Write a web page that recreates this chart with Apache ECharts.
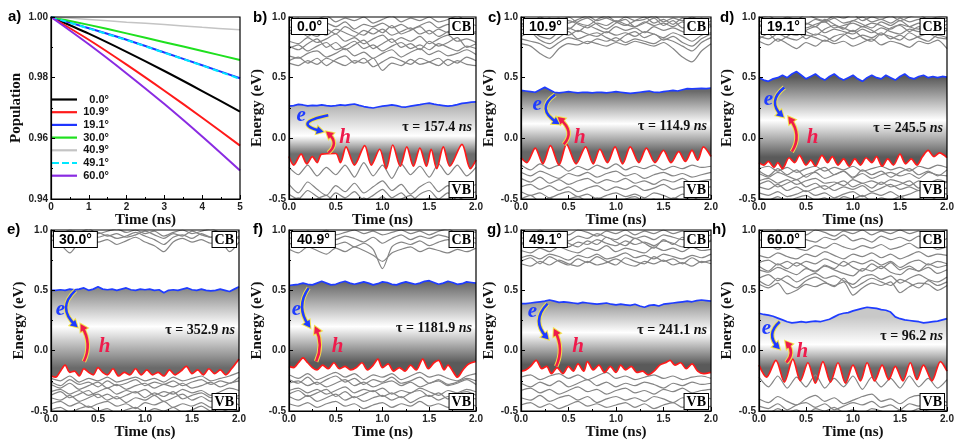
<!DOCTYPE html>
<html><head><meta charset="utf-8">
<script src="https://cdn.jsdelivr.net/npm/echarts@6/dist/echarts.min.js"></script>
<style>html,body{margin:0;padding:0;background:#fff}#c{width:960px;height:444px}</style>
</head><body><div id="c"></div>
<script>
// ---------------- DATA ----------------
// Panel a: population decay
const popTime = [0, 1, 2, 3, 4, 5];
const popLabels = ['0.0°', '10.9°', '19.1°', '30.0°', '40.9°', '49.1°', '60.0°'];
const pop00 = [1.000, 0.9945, 0.9885, 0.9822, 0.9756, 0.9688];
const pop109 = [1.000, 0.9925, 0.9843, 0.9757, 0.9668, 0.9576];
const pop191 = [1.000, 0.9963, 0.9925, 0.9883, 0.9841, 0.9798];
const pop300 = [1.000, 0.9974, 0.9946, 0.9917, 0.9888, 0.9858];
const pop409 = [1.000, 0.9992, 0.9983, 0.9975, 0.9966, 0.9958];
const pop491 = [1.000, 0.9962, 0.9924, 0.9882, 0.9840, 0.9796];
const pop600 = [1.000, 0.9910, 0.9814, 0.9713, 0.9606, 0.9494];

// Energy panels: shared time grids
const tFine = [0,0.05,0.1,0.15,0.2,0.25,0.3,0.35,0.4,0.45,0.5,0.55,0.6,0.65,0.7,0.75,0.8,0.85,0.9,0.95,1.0,1.05,1.1,1.15,1.2,1.25,1.3,1.35,1.4,1.45,1.5,1.55,1.6,1.65,1.7,1.75,1.8,1.85,1.9,1.95,2.0];
const tGray = [0,0.1,0.2,0.3,0.4,0.5,0.6,0.7,0.8,0.9,1.0,1.1,1.2,1.3,1.4,1.5,1.6,1.7,1.8,1.9,2.0];
const panelAngles = ['0.0°', '10.9°', '19.1°', '30.0°', '40.9°', '49.1°', '60.0°'];
const panelTau = ['157.4', '114.9', '245.5', '352.9', '1181.9', '241.1', '96.2'];

// b) 0.0°
const b_blue = [0.265,0.27,0.28,0.275,0.268,0.272,0.27,0.276,0.27,0.266,0.27,0.275,0.272,0.278,0.283,0.272,0.262,0.255,0.25,0.258,0.265,0.27,0.275,0.27,0.26,0.258,0.265,0.272,0.278,0.285,0.29,0.282,0.275,0.27,0.265,0.27,0.278,0.288,0.293,0.298,0.30];
const b_red = [[0,-0.15],[0.05,-0.22],[0.13,-0.13],[0.19,-0.21],[0.25,-0.15],[0.3,-0.2],[0.35,-0.13],[0.5,-0.125],[0.55,-0.2],[0.61,-0.07],[0.7,-0.22],[0.81,-0.06],[0.88,-0.22],[0.97,-0.09],[1.04,-0.25],[1.11,-0.055],[1.19,-0.23],[1.26,-0.07],[1.33,-0.23],[1.4,-0.08],[1.47,-0.23],[1.52,-0.09],[1.58,-0.25],[1.65,-0.07],[1.72,-0.23],[1.85,-0.05],[1.94,-0.25],[2.0,-0.18]];
const b_cb1 = [0.62,0.60,0.64,0.61,0.66,0.63,0.60,0.64,0.62,0.66,0.56,0.62,0.60,0.65,0.61,0.63,0.66,0.60,0.64,0.61,0.60];
const b_cb2 = [0.68,0.66,0.70,0.72,0.67,0.70,0.74,0.68,0.71,0.66,0.70,0.73,0.67,0.71,0.74,0.69,0.72,0.68,0.70,0.73,0.69];
const b_cb3 = [0.74,0.77,0.72,0.76,0.79,0.73,0.76,0.80,0.74,0.77,0.72,0.76,0.79,0.74,0.77,0.73,0.78,0.75,0.72,0.76,0.74];
const b_cb4 = [0.80,0.78,0.83,0.79,0.82,0.86,0.80,0.83,0.78,0.82,0.85,0.79,0.83,0.80,0.84,0.78,0.82,0.85,0.80,0.82,0.79];
const b_cb5 = [0.86,0.89,0.84,0.88,0.85,0.90,0.87,0.84,0.89,0.86,0.90,0.85,0.88,0.91,0.86,0.89,0.84,0.88,0.90,0.86,0.88];
const b_cb6 = [0.92,0.90,0.94,0.91,0.95,0.92,0.96,0.90,0.94,0.92,0.95,0.91,0.94,0.90,0.93,0.96,0.91,0.94,0.92,0.95,0.93];
const b_cb7 = [0.97,0.99,0.95,0.98,1.01,0.96,0.99,0.97,1.00,0.95,0.98,1.01,0.96,0.99,0.97,1.00,0.96,0.98,1.01,0.97,0.99];
const b_cb8 = [0.64,0.67,0.62,0.66,0.60,0.65,0.68,0.62,0.66,0.59,0.63,0.67,0.64,0.61,0.66,0.63,0.60,0.65,0.62,0.67,0.64];
const b_cb9 = [0.76,0.73,0.78,0.82,0.75,0.79,0.73,0.77,0.81,0.74,0.78,0.82,0.75,0.78,0.73,0.80,0.76,0.79,0.83,0.75,0.78];
const b_cb10 = [0.88,0.92,0.87,0.84,0.90,0.86,0.92,0.88,0.85,0.91,0.87,0.93,0.86,0.89,0.92,0.86,0.90,0.87,0.93,0.89,0.86];
const b_vb1 = [-0.24,-0.30,-0.22,-0.31,-0.24,-0.30,-0.22,-0.32,-0.20,-0.31,-0.22,-0.33,-0.21,-0.30,-0.23,-0.32,-0.21,-0.30,-0.22,-0.31,-0.24];
const b_vb2 = [-0.38,-0.45,-0.36,-0.42,-0.47,-0.39,-0.44,-0.37,-0.45,-0.40,-0.35,-0.43,-0.38,-0.46,-0.40,-0.36,-0.44,-0.39,-0.45,-0.41,-0.38];
const b_vb3 = [-0.46,-0.50,-0.43,-0.48,-0.52,-0.45,-0.49,-0.44,-0.51,-0.47,-0.42,-0.49,-0.45,-0.52,-0.46,-0.43,-0.50,-0.45,-0.51,-0.47,-0.44];
const b_vb4 = [-0.52,-0.49,-0.55,-0.50,-0.47,-0.53,-0.50,-0.55,-0.49,-0.53,-0.48,-0.54,-0.50,-0.47,-0.53,-0.49,-0.55,-0.50,-0.48,-0.53,-0.50];

// c) 10.9°
const c_blue = [0.395,0.39,0.385,0.38,0.40,0.42,0.40,0.38,0.375,0.38,0.385,0.38,0.375,0.38,0.378,0.375,0.38,0.378,0.375,0.38,0.385,0.38,0.375,0.37,0.375,0.38,0.385,0.39,0.38,0.378,0.385,0.39,0.395,0.39,0.40,0.41,0.408,0.41,0.412,0.41,0.415];
const c_red = [[0,-0.16],[0.06,-0.2],[0.15,-0.08],[0.23,-0.21],[0.31,-0.06],[0.4,-0.22],[0.48,-0.05],[0.58,-0.21],[0.68,-0.07],[0.76,-0.21],[0.83,-0.09],[0.91,-0.2],[0.99,-0.07],[1.07,-0.21],[1.15,-0.07],[1.24,-0.2],[1.32,-0.08],[1.41,-0.2],[1.5,-0.1],[1.58,-0.2],[1.66,-0.11],[1.73,-0.19],[1.8,-0.1],[1.86,-0.18],[1.92,-0.07],[2.0,-0.15]];
const c_cb1 = [0.78,0.76,0.70,0.66,0.74,0.78,0.77,0.80,0.78,0.76,0.79,0.77,0.80,0.78,0.76,0.79,0.74,0.67,0.63,0.72,0.78];
const c_cb2 = [0.82,0.80,0.78,0.74,0.79,0.83,0.81,0.78,0.82,0.80,0.83,0.79,0.82,0.80,0.78,0.82,0.80,0.76,0.72,0.79,0.83];
const c_cb3 = [0.86,0.88,0.84,0.82,0.87,0.85,0.89,0.86,0.84,0.88,0.85,0.87,0.84,0.88,0.86,0.83,0.87,0.84,0.80,0.85,0.87];
const c_cb4 = [0.90,0.88,0.92,0.89,0.86,0.91,0.88,0.93,0.90,0.87,0.92,0.89,0.91,0.87,0.92,0.89,0.91,0.88,0.86,0.90,0.92];
const c_cb5 = [0.94,0.96,0.92,0.95,0.93,0.97,0.94,0.91,0.95,0.93,0.97,0.94,0.92,0.96,0.93,0.95,0.92,0.96,0.93,0.95,0.94];
const c_cb6 = [0.98,0.96,1.00,0.97,0.99,0.95,0.98,1.01,0.97,0.99,0.96,1.00,0.97,0.98,1.01,0.96,0.99,0.97,1.00,0.97,0.99];
const c_cb7 = [0.92,0.95,0.98,0.93,0.96,1.00,0.95,0.93,0.98,1.01,0.96,0.93,0.97,1.00,0.95,0.98,0.94,0.99,0.96,0.93,0.97];
const c_cb8 = [0.84,0.87,0.81,0.78,0.83,0.88,0.82,0.85,0.87,0.83,0.80,0.85,0.88,0.83,0.86,0.81,0.84,0.79,0.76,0.82,0.86];
const c_cb9 = [0.95,0.91,0.96,0.99,0.93,0.90,0.96,0.99,0.94,0.90,0.95,0.98,0.92,0.95,0.99,0.93,0.97,0.91,0.95,0.99,0.92];
const c_vb1 = [-0.22,-0.26,-0.21,-0.25,-0.22,-0.27,-0.23,-0.26,-0.22,-0.25,-0.21,-0.26,-0.23,-0.25,-0.22,-0.26,-0.23,-0.25,-0.22,-0.24,-0.23];
const c_vb2 = [-0.28,-0.31,-0.27,-0.30,-0.33,-0.29,-0.31,-0.28,-0.32,-0.29,-0.27,-0.31,-0.29,-0.33,-0.30,-0.28,-0.31,-0.29,-0.32,-0.30,-0.28];
const c_vb3 = [-0.33,-0.36,-0.32,-0.37,-0.34,-0.38,-0.35,-0.33,-0.37,-0.34,-0.36,-0.33,-0.37,-0.35,-0.38,-0.34,-0.36,-0.33,-0.37,-0.35,-0.34];
const c_vb4 = [-0.40,-0.38,-0.42,-0.39,-0.43,-0.40,-0.44,-0.41,-0.39,-0.43,-0.40,-0.42,-0.39,-0.43,-0.41,-0.38,-0.42,-0.40,-0.44,-0.41,-0.40];
const c_vb5 = [-0.44,-0.47,-0.45,-0.49,-0.46,-0.44,-0.48,-0.46,-0.50,-0.47,-0.45,-0.48,-0.46,-0.49,-0.45,-0.47,-0.50,-0.46,-0.48,-0.45,-0.47];
const c_vb6 = [-0.50,-0.47,-0.52,-0.49,-0.53,-0.50,-0.48,-0.52,-0.49,-0.51,-0.54,-0.50,-0.48,-0.52,-0.50,-0.53,-0.49,-0.51,-0.48,-0.52,-0.50];

// d) 19.1°
const d_blue = [0.50,0.48,0.47,0.49,0.50,0.52,0.50,0.53,0.55,0.52,0.49,0.51,0.53,0.50,0.48,0.51,0.53,0.50,0.48,0.50,0.52,0.49,0.47,0.50,0.52,0.50,0.49,0.52,0.50,0.48,0.51,0.53,0.50,0.49,0.51,0.52,0.50,0.51,0.50,0.51,0.505];
const d_red = [[0,-0.2],[0.05,-0.22],[0.1,-0.19],[0.16,-0.24],[0.2,-0.2],[0.25,-0.25],[0.32,-0.16],[0.38,-0.2],[0.43,-0.14],[0.5,-0.22],[0.55,-0.18],[0.6,-0.23],[0.67,-0.14],[0.73,-0.2],[0.78,-0.15],[0.84,-0.22],[0.9,-0.17],[0.96,-0.23],[1.02,-0.17],[1.08,-0.22],[1.14,-0.16],[1.2,-0.2],[1.25,-0.15],[1.31,-0.23],[1.37,-0.17],[1.43,-0.22],[1.5,-0.13],[1.56,-0.21],[1.62,-0.17],[1.68,-0.22],[1.74,-0.15],[1.8,-0.1],[1.86,-0.15],[1.92,-0.12],[2.0,-0.16]];
const d_cb1 = [0.80,0.77,0.82,0.78,0.74,0.79,0.76,0.81,0.78,0.80,0.76,0.79,0.82,0.77,0.80,0.78,0.75,0.80,0.78,0.81,0.74];
const d_cb2 = [0.84,0.82,0.86,0.83,0.81,0.85,0.83,0.80,0.84,0.86,0.82,0.85,0.83,0.87,0.82,0.85,0.81,0.84,0.86,0.83,0.82];
const d_cb3 = [0.88,0.86,0.90,0.87,0.85,0.89,0.92,0.87,0.90,0.88,0.86,0.90,0.87,0.91,0.88,0.86,0.90,0.88,0.91,0.87,0.89];
const d_cb4 = [0.92,0.94,0.90,0.93,0.95,0.91,0.94,0.96,0.91,0.93,0.95,0.92,0.95,0.93,0.90,0.94,0.92,0.95,0.93,0.91,0.94];
const d_cb5 = [0.96,0.98,0.95,0.99,0.96,0.94,0.98,0.96,0.99,0.95,0.97,1.00,0.96,0.98,0.95,0.99,0.96,0.98,0.95,0.97,0.99];
const d_cb6 = [0.99,1.01,0.97,1.00,0.98,1.02,0.99,0.97,1.01,0.99,1.02,0.97,1.00,0.98,1.01,0.97,1.00,1.02,0.98,1.00,1.01];
const d_cb7 = [0.86,0.90,0.93,0.89,0.92,0.88,0.85,0.90,0.93,0.91,0.88,0.92,0.89,0.85,0.91,0.93,0.88,0.92,0.89,0.93,0.90];
const d_cb8 = [0.82,0.86,0.80,0.84,0.88,0.82,0.86,0.84,0.80,0.85,0.89,0.83,0.80,0.86,0.84,0.81,0.87,0.83,0.80,0.85,0.83];
const d_cb9 = [0.94,0.90,0.96,0.92,0.89,0.95,0.92,0.98,0.94,0.90,0.97,0.94,0.91,0.96,0.93,0.97,0.92,0.90,0.96,0.94,0.97];
const d_vb1 = [-0.25,-0.23,-0.27,-0.24,-0.28,-0.25,-0.23,-0.27,-0.24,-0.26,-0.23,-0.27,-0.25,-0.23,-0.26,-0.24,-0.27,-0.23,-0.25,-0.22,-0.24];
const d_vb2 = [-0.29,-0.32,-0.28,-0.31,-0.34,-0.30,-0.28,-0.33,-0.30,-0.27,-0.32,-0.29,-0.33,-0.30,-0.28,-0.31,-0.29,-0.33,-0.28,-0.30,-0.31];
const d_vb3 = [-0.35,-0.33,-0.37,-0.34,-0.38,-0.35,-0.33,-0.37,-0.36,-0.39,-0.34,-0.37,-0.35,-0.38,-0.34,-0.36,-0.39,-0.35,-0.37,-0.34,-0.36];
const d_vb4 = [-0.40,-0.42,-0.38,-0.43,-0.40,-0.44,-0.41,-0.39,-0.43,-0.40,-0.42,-0.39,-0.44,-0.41,-0.38,-0.42,-0.40,-0.43,-0.39,-0.42,-0.41];
const d_vb5 = [-0.45,-0.47,-0.44,-0.48,-0.46,-0.43,-0.47,-0.45,-0.49,-0.46,-0.44,-0.48,-0.45,-0.47,-0.44,-0.48,-0.46,-0.43,-0.47,-0.45,-0.46];
const d_vb6 = [-0.49,-0.51,-0.48,-0.52,-0.49,-0.47,-0.51,-0.49,-0.53,-0.48,-0.50,-0.47,-0.52,-0.49,-0.51,-0.48,-0.52,-0.50,-0.47,-0.51,-0.49];
const d_vb7 = [-0.27,-0.31,-0.25,-0.30,-0.26,-0.32,-0.27,-0.24,-0.30,-0.27,-0.33,-0.26,-0.30,-0.27,-0.32,-0.28,-0.25,-0.30,-0.27,-0.31,-0.26];
const d_vb8 = [-0.38,-0.35,-0.40,-0.37,-0.34,-0.40,-0.37,-0.42,-0.38,-0.35,-0.40,-0.37,-0.41,-0.36,-0.40,-0.38,-0.35,-0.41,-0.37,-0.39,-0.36];

// e) 30.0°
const e_blue = [0.50,0.50,0.505,0.50,0.51,0.505,0.51,0.52,0.50,0.51,0.53,0.51,0.505,0.51,0.50,0.51,0.52,0.505,0.50,0.51,0.505,0.51,0.50,0.505,0.48,0.50,0.505,0.50,0.51,0.52,0.505,0.50,0.51,0.50,0.495,0.50,0.51,0.50,0.49,0.51,0.53];
const e_red = [[0,-0.21],[0.05,-0.22],[0.1,-0.17],[0.15,-0.12],[0.2,-0.18],[0.25,-0.17],[0.3,-0.21],[0.35,-0.15],[0.4,-0.18],[0.45,-0.2],[0.5,-0.14],[0.55,-0.18],[0.6,-0.2],[0.66,-0.15],[0.72,-0.21],[0.78,-0.18],[0.84,-0.2],[0.9,-0.15],[0.96,-0.2],[1.02,-0.16],[1.08,-0.2],[1.14,-0.18],[1.2,-0.21],[1.26,-0.16],[1.32,-0.2],[1.38,-0.17],[1.44,-0.13],[1.5,-0.19],[1.56,-0.16],[1.62,-0.2],[1.68,-0.15],[1.74,-0.19],[1.8,-0.16],[1.86,-0.2],[1.92,-0.15],[1.97,-0.1],[2.0,-0.07]];
const e_cb1 = [0.92,0.88,0.81,0.90,0.93,0.90,0.92,0.88,0.91,0.94,0.90,0.87,0.82,0.90,0.93,0.90,0.92,0.89,0.91,0.82,0.90];
const e_cb2 = [0.96,0.94,0.90,0.95,0.97,0.94,0.96,0.93,0.95,0.98,0.95,0.92,0.88,0.94,0.96,0.93,0.97,0.94,0.96,0.90,0.95];
const e_cb3 = [0.99,0.97,1.00,0.98,1.01,0.97,0.99,1.01,0.98,1.00,0.97,0.99,0.95,0.98,1.00,0.97,0.99,1.01,0.98,0.96,0.99];
const e_cb4 = [0.94,0.97,0.95,0.92,0.96,0.98,0.95,0.97,0.94,0.96,0.99,0.96,0.93,0.97,0.95,0.99,0.96,0.94,0.97,0.95,0.93];
const e_vb1 = [-0.23,-0.25,-0.21,-0.26,-0.23,-0.25,-0.22,-0.26,-0.24,-0.22,-0.25,-0.23,-0.26,-0.22,-0.25,-0.23,-0.21,-0.25,-0.23,-0.21,-0.18];
const e_vb2 = [-0.28,-0.31,-0.27,-0.32,-0.29,-0.26,-0.31,-0.28,-0.32,-0.29,-0.27,-0.31,-0.28,-0.30,-0.27,-0.31,-0.29,-0.26,-0.30,-0.27,-0.25];
const e_vb3 = [-0.34,-0.32,-0.36,-0.33,-0.37,-0.34,-0.31,-0.36,-0.33,-0.35,-0.32,-0.37,-0.34,-0.36,-0.32,-0.35,-0.33,-0.37,-0.34,-0.31,-0.33];
const e_vb4 = [-0.39,-0.41,-0.37,-0.42,-0.39,-0.36,-0.41,-0.38,-0.43,-0.39,-0.41,-0.37,-0.42,-0.39,-0.36,-0.41,-0.38,-0.42,-0.39,-0.37,-0.40];
const e_vb5 = [-0.44,-0.42,-0.46,-0.43,-0.47,-0.44,-0.42,-0.46,-0.44,-0.48,-0.43,-0.45,-0.42,-0.47,-0.44,-0.46,-0.43,-0.47,-0.44,-0.42,-0.45];
const e_vb6 = [-0.49,-0.47,-0.51,-0.48,-0.46,-0.50,-0.48,-0.52,-0.49,-0.47,-0.51,-0.48,-0.50,-0.47,-0.51,-0.49,-0.46,-0.50,-0.48,-0.51,-0.49];
const e_vb7 = [-0.26,-0.29,-0.24,-0.28,-0.26,-0.30,-0.25,-0.29,-0.27,-0.24,-0.29,-0.26,-0.28,-0.25,-0.29,-0.26,-0.24,-0.28,-0.25,-0.27,-0.22];
const e_vb8 = [-0.37,-0.34,-0.39,-0.36,-0.33,-0.39,-0.36,-0.40,-0.37,-0.34,-0.39,-0.35,-0.38,-0.34,-0.40,-0.37,-0.35,-0.39,-0.36,-0.40,-0.37];

// f) 40.9°
const f_blue = [0.54,0.545,0.55,0.56,0.55,0.545,0.56,0.575,0.56,0.545,0.55,0.565,0.575,0.56,0.55,0.56,0.57,0.56,0.545,0.555,0.57,0.565,0.55,0.545,0.56,0.57,0.56,0.55,0.56,0.575,0.58,0.565,0.55,0.56,0.575,0.565,0.55,0.555,0.57,0.565,0.56];
const f_red = [[0,-0.13],[0.05,-0.14],[0.1,-0.1],[0.15,-0.06],[0.2,-0.1],[0.25,-0.14],[0.3,-0.16],[0.36,-0.12],[0.42,-0.15],[0.48,-0.1],[0.54,-0.15],[0.6,-0.13],[0.66,-0.16],[0.72,-0.14],[0.78,-0.1],[0.84,-0.16],[0.9,-0.12],[0.95,-0.07],[1.0,-0.14],[1.06,-0.11],[1.12,-0.17],[1.18,-0.14],[1.24,-0.17],[1.3,-0.12],[1.36,-0.16],[1.43,-0.07],[1.49,-0.15],[1.55,-0.1],[1.6,-0.08],[1.66,-0.16],[1.7,-0.12],[1.76,-0.18],[1.8,-0.22],[1.86,-0.16],[1.92,-0.11],[2.0,-0.09]];
const f_cb1 = [0.84,0.81,0.86,0.83,0.80,0.85,0.82,0.86,0.83,0.79,0.74,0.81,0.84,0.86,0.82,0.85,0.83,0.81,0.84,0.82,0.85];
const f_cb2 = [0.88,0.91,0.87,0.89,0.92,0.88,0.90,0.86,0.89,0.84,0.68,0.86,0.90,0.88,0.91,0.87,0.90,0.92,0.88,0.91,0.89];
const f_cb3 = [0.93,0.95,0.91,0.94,0.96,0.92,0.95,0.93,0.90,0.94,0.89,0.93,0.96,0.92,0.95,0.93,0.96,0.94,0.92,0.95,0.93];
const f_cb4 = [0.98,0.96,0.99,0.97,1.00,0.96,0.98,1.00,0.97,0.99,0.96,0.98,1.00,0.97,0.99,0.96,0.99,1.01,0.97,0.99,0.98];
const f_vb1 = [-0.20,-0.23,-0.19,-0.24,-0.21,-0.18,-0.22,-0.19,-0.24,-0.20,-0.22,-0.19,-0.24,-0.21,-0.18,-0.22,-0.20,-0.23,-0.25,-0.21,-0.19];
const f_vb2 = [-0.27,-0.25,-0.29,-0.26,-0.30,-0.27,-0.24,-0.29,-0.26,-0.30,-0.27,-0.25,-0.29,-0.26,-0.30,-0.27,-0.25,-0.29,-0.27,-0.24,-0.28];
const f_vb3 = [-0.33,-0.31,-0.35,-0.32,-0.36,-0.33,-0.30,-0.35,-0.32,-0.34,-0.31,-0.36,-0.33,-0.35,-0.31,-0.34,-0.37,-0.33,-0.35,-0.32,-0.34];
const f_vb4 = [-0.38,-0.41,-0.37,-0.42,-0.39,-0.36,-0.41,-0.38,-0.42,-0.39,-0.37,-0.41,-0.38,-0.43,-0.39,-0.37,-0.41,-0.38,-0.42,-0.39,-0.40];
const f_vb5 = [-0.44,-0.46,-0.43,-0.47,-0.44,-0.42,-0.46,-0.44,-0.48,-0.45,-0.43,-0.47,-0.44,-0.46,-0.42,-0.46,-0.44,-0.47,-0.45,-0.43,-0.46];
const f_vb6 = [-0.24,-0.27,-0.22,-0.28,-0.24,-0.21,-0.26,-0.23,-0.28,-0.24,-0.26,-0.22,-0.27,-0.25,-0.22,-0.27,-0.24,-0.28,-0.26,-0.23,-0.25];
const f_vb7 = [-0.36,-0.33,-0.38,-0.35,-0.32,-0.38,-0.34,-0.39,-0.36,-0.33,-0.38,-0.35,-0.39,-0.35,-0.33,-0.38,-0.35,-0.40,-0.36,-0.34,-0.37];

// g) 49.1°
const g_blue = [0.39,0.39,0.395,0.40,0.405,0.41,0.42,0.41,0.40,0.405,0.40,0.395,0.39,0.40,0.395,0.39,0.385,0.39,0.395,0.385,0.38,0.385,0.38,0.375,0.385,0.37,0.36,0.375,0.38,0.37,0.385,0.39,0.395,0.40,0.405,0.41,0.405,0.415,0.42,0.415,0.41];
const g_red = [[0,-0.17],[0.05,-0.16],[0.1,-0.13],[0.16,-0.08],[0.22,-0.15],[0.27,-0.13],[0.32,-0.19],[0.38,-0.14],[0.44,-0.19],[0.5,-0.13],[0.55,-0.17],[0.6,-0.11],[0.66,-0.17],[0.7,-0.09],[0.76,-0.16],[0.82,-0.12],[0.88,-0.18],[0.94,-0.13],[1.0,-0.18],[1.05,-0.12],[1.1,-0.16],[1.16,-0.13],[1.22,-0.18],[1.28,-0.17],[1.34,-0.2],[1.4,-0.17],[1.46,-0.12],[1.52,-0.1],[1.57,-0.08],[1.62,-0.12],[1.68,-0.1],[1.74,-0.15],[1.8,-0.11],[1.86,-0.17],[1.92,-0.19],[2.0,-0.18]];
const g_cb1 = [0.72,0.70,0.74,0.71,0.75,0.72,0.70,0.74,0.71,0.73,0.76,0.72,0.70,0.74,0.72,0.75,0.71,0.73,0.70,0.74,0.72];
const g_cb2 = [0.77,0.79,0.76,0.80,0.78,0.75,0.79,0.77,0.80,0.76,0.78,0.81,0.77,0.79,0.76,0.80,0.78,0.76,0.79,0.77,0.80];
const g_cb3 = [0.83,0.81,0.85,0.82,0.86,0.83,0.81,0.85,0.83,0.87,0.82,0.85,0.83,0.81,0.86,0.83,0.85,0.82,0.86,0.83,0.84];
const g_cb4 = [0.88,0.90,0.87,0.91,0.88,0.86,0.90,0.88,0.92,0.89,0.87,0.91,0.88,0.90,0.87,0.91,0.89,0.86,0.90,0.88,0.91];
const g_cb5 = [0.93,0.95,0.92,0.96,0.93,0.91,0.95,0.93,0.97,0.94,0.92,0.96,0.93,0.95,0.92,0.96,0.94,0.92,0.95,0.93,0.96];
const g_cb6 = [0.98,0.96,1.00,0.97,0.99,0.96,1.00,0.98,0.95,0.99,0.97,1.00,0.96,0.99,0.97,1.00,0.97,0.99,0.96,0.98,1.00];
const g_cb7 = [0.74,0.77,0.72,0.78,0.74,0.71,0.76,0.73,0.78,0.74,0.71,0.77,0.74,0.72,0.78,0.74,0.76,0.72,0.77,0.73,0.75];
const g_cb8 = [0.90,0.86,0.92,0.88,0.94,0.89,0.86,0.91,0.88,0.94,0.90,0.87,0.93,0.89,0.85,0.92,0.88,0.94,0.90,0.86,0.92];
const g_vb1 = [-0.22,-0.20,-0.24,-0.21,-0.19,-0.23,-0.20,-0.24,-0.21,-0.18,-0.23,-0.21,-0.24,-0.22,-0.20,-0.23,-0.21,-0.24,-0.22,-0.21,-0.23];
const g_vb2 = [-0.27,-0.30,-0.26,-0.29,-0.25,-0.30,-0.27,-0.24,-0.29,-0.26,-0.30,-0.27,-0.29,-0.26,-0.28,-0.31,-0.27,-0.29,-0.26,-0.28,-0.27];
const g_vb3 = [-0.33,-0.31,-0.35,-0.32,-0.36,-0.33,-0.30,-0.34,-0.32,-0.36,-0.33,-0.31,-0.35,-0.33,-0.36,-0.32,-0.34,-0.31,-0.35,-0.33,-0.32];
const g_vb4 = [-0.39,-0.41,-0.37,-0.42,-0.39,-0.37,-0.41,-0.38,-0.43,-0.40,-0.38,-0.41,-0.39,-0.42,-0.38,-0.40,-0.43,-0.39,-0.41,-0.38,-0.40];
const g_vb5 = [-0.45,-0.43,-0.47,-0.44,-0.48,-0.45,-0.42,-0.46,-0.44,-0.47,-0.45,-0.43,-0.47,-0.44,-0.48,-0.45,-0.43,-0.47,-0.45,-0.48,-0.46];

// h) 60.0°
const h_blue = [0.31,0.30,0.295,0.285,0.27,0.255,0.24,0.23,0.235,0.24,0.235,0.24,0.245,0.24,0.25,0.26,0.28,0.30,0.31,0.315,0.33,0.34,0.35,0.36,0.355,0.35,0.34,0.335,0.32,0.28,0.265,0.255,0.25,0.245,0.24,0.23,0.235,0.24,0.245,0.255,0.265];
const h_red = [[0,-0.12],[0.08,-0.22],[0.18,-0.08],[0.27,-0.26],[0.36,-0.07],[0.44,-0.25],[0.52,-0.1],[0.6,-0.27],[0.68,-0.09],[0.76,-0.26],[0.84,-0.1],[0.92,-0.27],[1.0,-0.12],[1.08,-0.25],[1.15,-0.1],[1.23,-0.25],[1.31,-0.12],[1.38,-0.24],[1.45,-0.13],[1.53,-0.25],[1.61,-0.1],[1.68,-0.24],[1.75,-0.12],[1.84,-0.25],[1.93,-0.09],[2.0,-0.17]];
const h_cb1 = [0.55,0.52,0.56,0.47,0.50,0.55,0.53,0.56,0.54,0.57,0.46,0.52,0.56,0.54,0.57,0.48,0.53,0.56,0.55,0.50,0.54];
const h_cb2 = [0.60,0.63,0.58,0.62,0.57,0.61,0.64,0.60,0.62,0.58,0.55,0.61,0.63,0.59,0.62,0.56,0.60,0.63,0.59,0.57,0.61];
const h_cb3 = [0.67,0.65,0.69,0.66,0.63,0.68,0.66,0.70,0.67,0.64,0.62,0.68,0.66,0.70,0.65,0.63,0.68,0.66,0.69,0.64,0.67];
const h_cb4 = [0.73,0.75,0.71,0.74,0.70,0.74,0.72,0.76,0.73,0.70,0.74,0.72,0.75,0.71,0.74,0.69,0.73,0.75,0.71,0.74,0.72];
const h_cb5 = [0.79,0.77,0.81,0.78,0.76,0.80,0.78,0.82,0.79,0.76,0.80,0.78,0.81,0.77,0.80,0.76,0.79,0.82,0.78,0.80,0.79];
const h_cb6 = [0.85,0.87,0.84,0.88,0.85,0.83,0.87,0.85,0.89,0.86,0.84,0.87,0.85,0.88,0.84,0.86,0.89,0.85,0.87,0.84,0.86];
const h_cb7 = [0.92,0.90,0.94,0.91,0.95,0.92,0.90,0.94,0.92,0.96,0.91,0.93,0.90,0.95,0.92,0.94,0.91,0.95,0.92,0.90,0.93];
const h_cb8 = [0.98,0.96,1.00,0.97,0.99,0.96,1.00,0.98,0.95,0.99,0.97,1.00,0.96,0.99,0.97,1.00,0.97,0.99,0.96,0.98,1.00];
const h_cb9 = [0.58,0.54,0.60,0.56,0.52,0.58,0.61,0.57,0.53,0.60,0.52,0.56,0.60,0.57,0.54,0.59,0.56,0.52,0.58,0.54,0.57];
const h_cb10 = [0.70,0.66,0.72,0.68,0.73,0.69,0.65,0.71,0.68,0.74,0.69,0.66,0.72,0.68,0.73,0.67,0.70,0.66,0.72,0.69,0.71];
const h_vb1 = [-0.22,-0.30,-0.21,-0.31,-0.22,-0.30,-0.20,-0.31,-0.23,-0.30,-0.21,-0.32,-0.22,-0.30,-0.23,-0.31,-0.21,-0.30,-0.23,-0.31,-0.24];
const h_vb2 = [-0.40,-0.43,-0.38,-0.42,-0.45,-0.40,-0.37,-0.42,-0.39,-0.44,-0.41,-0.38,-0.36,-0.42,-0.40,-0.44,-0.39,-0.37,-0.42,-0.40,-0.43];
const h_vb3 = [-0.46,-0.48,-0.44,-0.49,-0.45,-0.43,-0.47,-0.44,-0.49,-0.46,-0.43,-0.45,-0.42,-0.47,-0.45,-0.49,-0.44,-0.46,-0.43,-0.47,-0.45];
const h_vb4 = [-0.50,-0.52,-0.48,-0.51,-0.49,-0.53,-0.48,-0.50,-0.47,-0.51,-0.49,-0.52,-0.48,-0.50,-0.53,-0.49,-0.51,-0.48,-0.50,-0.52,-0.49];

// ---------------- LAYOUT / STYLE ----------------
const popSeries = [pop00, pop109, pop191, pop300, pop409, pop491, pop600];
const popColors = ['#000000', '#ff1a1a', '#1f35ff', '#1fe01f', '#c4c4c4', '#00e8ff', '#8a2be2'];
const popWidths = [2, 2, 2, 2, 1.5, 2, 2];
const popTypes = ['solid', 'solid', 'solid', 'solid', 'solid', [6, 4], 'solid'];

const blues = [b_blue, c_blue, d_blue, e_blue, f_blue, g_blue, h_blue];
const reds = [b_red, c_red, d_red, e_red, f_red, g_red, h_red];
const grays = [
  [b_cb1, b_cb2, b_cb3, b_cb4, b_cb5, b_cb6, b_cb7, b_cb8, b_cb9, b_cb10, b_vb1, b_vb2, b_vb3, b_vb4],
  [c_cb1, c_cb2, c_cb3, c_cb4, c_cb5, c_cb6, c_cb7, c_cb8, c_cb9, c_vb1, c_vb2, c_vb3, c_vb4, c_vb5, c_vb6],
  [d_cb1, d_cb2, d_cb3, d_cb4, d_cb5, d_cb6, d_cb7, d_cb8, d_cb9, d_vb1, d_vb2, d_vb3, d_vb4, d_vb5, d_vb6, d_vb7, d_vb8],
  [e_cb1, e_cb2, e_cb3, e_cb4, e_vb1, e_vb2, e_vb3, e_vb4, e_vb5, e_vb6, e_vb7, e_vb8],
  [f_cb1, f_cb2, f_cb3, f_cb4, f_vb1, f_vb2, f_vb3, f_vb4, f_vb5, f_vb6, f_vb7],
  [g_cb1, g_cb2, g_cb3, g_cb4, g_cb5, g_cb6, g_cb7, g_cb8, g_vb1, g_vb2, g_vb3, g_vb4, g_vb5],
  [h_cb1, h_cb2, h_cb3, h_cb4, h_cb5, h_cb6, h_cb7, h_cb8, h_cb9, h_cb10, h_vb1, h_vb2, h_vb3, h_vb4]
];
// shading: [color near blue, energy where white, color near red]
const shade = [['#b2b2b2', 0.02, '#6e6e6e'], ['#6a6a6a', 0.12, '#666'], ['#5a5a5a', 0.15, '#5a5a5a'],
               ['#8a8a8a', 0.2, '#6a6a6a'], ['#6a6a6a', 0.2, '#5a5a5a'], ['#9a9a9a', 0.15, '#5a5a5a'], ['#c8c8c8', 0.05, '#6a6a6a']];
// annotation placement (data units)
const tauE = [0.09, 0.1, 0.08, 0.17, 0.185, 0.17, 0.115];
const arrowB = [[0.42,0.19,0.34,0.06,0.2],[0.36,0.36,0.38,0.13,0.26],[0.27,0.42,0.24,0.19,0.17],[0.26,0.50,0.26,0.21,0.16],[0.21,0.52,0.21,0.21,0.14],[0.28,0.39,0.27,0.11,0.19],[0.22,0.24,0.2,0.03,0.14]];
const arrowR = [[0.42,-0.12,0.42,0.04,0.48],[0.45,-0.05,0.41,0.16,0.5],[0.35,-0.11,0.33,0.16,0.4],[0.35,-0.09,0.33,0.2,0.39],[0.29,-0.09,0.29,0.18,0.33],[0.37,-0.13,0.36,0.16,0.41],[0.29,-0.1,0.3,0.06,0.34]];
const eLab = [[0.13,0.19],[0.17,0.275],[0.1,0.32],[0.1,0.34],[0.08,0.34],[0.12,0.32],[0.08,0.185]];
const hLab = [[0.6,0.01],[0.62,0.01],[0.57,0.01],[0.57,0.03],[0.52,0.03],[0.6,0.03],[0.46,-0.01]];

const G = [
  {left: 51, top: 17, width: 189, height: 182},
  {left: 289, top: 17, width: 187, height: 182},
  {left: 521, top: 17, width: 190, height: 182},
  {left: 759, top: 17, width: 188, height: 182},
  {left: 51, top: 230, width: 188, height: 181},
  {left: 289, top: 230, width: 187, height: 181},
  {left: 521, top: 230, width: 190, height: 181},
  {left: 759, top: 230, width: 188, height: 181}
];
const letters = ['a)', 'b)', 'c)', 'd)', 'e)', 'f)', 'g)', 'h)'];
const letterPos = [[8,17],[253,18],[488,18],[720,18],[7,230],[253,230],[487,230],[712,230]];

const SANS = 'Liberation Sans', SERIF = 'Liberation Serif';
const tickLbl = {fontFamily: SANS, fontWeight: 'bold', fontSize: 10, color: '#222', margin: 3};
const nameStyle = {fontFamily: SERIF, fontWeight: 'bold', fontSize: 15, color: '#111'};

const xAxes = [], yAxes = [], series = [];
G.forEach((g, i) => {
  const isA = i === 0;
  xAxes.push({
    gridIndex: i, type: 'value', min: 0, max: isA ? 5 : 2, interval: isA ? 1 : 0.5,
    name: 'Time (ns)', nameLocation: 'middle', nameGap: 12, nameTextStyle: nameStyle,
    axisLine: {show: true, onZero: false, lineStyle: {color: '#000', width: 1.2}},
    axisTick: {show: true, inside: true, length: 4, lineStyle: {color: '#000'}},
    minorTick: {show: true, splitNumber: 2, length: 2, lineStyle: {color: '#000'}},
    splitLine: {show: false},
    axisLabel: Object.assign({}, tickLbl, {formatter: v => isA ? String(v) : v.toFixed(1)}),
    z: 10
  });
  yAxes.push({
    gridIndex: i, type: 'value', min: isA ? 0.94 : -0.5, max: 1.0, interval: isA ? 0.02 : 0.5,
    name: isA ? 'Population' : 'Energy (eV)', nameLocation: 'middle', nameGap: isA ? 27 : 21, nameTextStyle: nameStyle,
    axisLine: {show: true, onZero: false, lineStyle: {color: '#000', width: 1.2}},
    axisTick: {show: true, inside: true, length: 4, lineStyle: {color: '#000'}},
    minorTick: {show: true, splitNumber: 2, length: 2, lineStyle: {color: '#000'}},
    splitLine: {show: false},
    axisLabel: Object.assign({}, tickLbl, {formatter: v => isA ? v.toFixed(2) : v.toFixed(1)}),
    z: 10
  });
});

// Panel a series
popSeries.forEach((arr, k) => {
  series.push({
    type: 'line', name: popLabels[k], xAxisIndex: 0, yAxisIndex: 0, symbol: 'none', smooth: 0.3,
    data: popTime.map((t, j) => [t, arr[j]]),
    lineStyle: {color: popColors[k], width: popWidths[k], type: popTypes[k]},
    itemStyle: {color: popColors[k]}, z: 3 + k
  });
});

// Energy panels
function grad(blue, red, cfg) {
  const top = Math.max(...blue), bot = -0.5, span = top - bot;
  const f = e => Math.min(1, Math.max(0, (top - e) / span));
  const bAvg = blue.reduce((a, b) => a + b, 0) / blue.length;
  const rAvg = red.reduce((a, p) => a + p[1], 0) / red.length;
  return {type: 'linear', x: 0, y: 0, x2: 0, y2: 1, colorStops: [
    {offset: 0, color: cfg[0]}, {offset: f(bAvg), color: cfg[0]},
    {offset: f(cfg[1]), color: '#ffffff'}, {offset: f(rAvg + 0.03), color: cfg[2]}, {offset: 1, color: cfg[2]}]};
}
blues.forEach((blue, p) => {
  const gi = p + 1;
  const red = reds[p];
  const bData = tFine.map((t, j) => [t, blue[j]]);
  series.push({type: 'line', xAxisIndex: gi, yAxisIndex: gi, data: bData, symbol: 'none', silent: true,
    lineStyle: {width: 0}, areaStyle: {origin: 'start', color: grad(blue, red, shade[p]), opacity: 1}, z: 1});
  series.push({type: 'line', xAxisIndex: gi, yAxisIndex: gi, data: red, symbol: 'none', silent: true, smooth: 0.3,
    lineStyle: {width: 0}, areaStyle: {origin: 'start', color: '#ffffff', opacity: 1}, z: 1});
  grays[p].forEach(arr => {
    series.push({type: 'line', xAxisIndex: gi, yAxisIndex: gi, data: tGray.map((t, j) => [t, arr[j]]),
      symbol: 'none', smooth: 0.25, silent: true, lineStyle: {color: '#858585', width: 1.2}, z: 2});
  });
  series.push({type: 'line', xAxisIndex: gi, yAxisIndex: gi, data: bData, symbol: 'none', silent: true,
    lineStyle: {color: '#1f3cff', width: 1.7}, z: 4});
  series.push({type: 'line', xAxisIndex: gi, yAxisIndex: gi, data: red, symbol: 'none', smooth: 0.3, silent: true,
    lineStyle: {color: '#ff1a1a', width: 1.7}, z: 4});
});

const dashIcon = 'path://M0,0h7v2h-7zM10,0h7v2h-7zM20,0h5v2h-5z';
const chart = echarts.init(document.getElementById('c'), null, {renderer: 'canvas'});
chart.setOption({
  backgroundColor: '#ffffff',
  animation: false,
  grid: G.map(g => Object.assign({show: false, containLabel: false}, g)),
  xAxis: xAxes, yAxis: yAxes,
  legend: {
    data: popLabels.map((n, k) => ({name: n, icon: k === 5 ? dashIcon : 'rect'})),
    left: 52, top: 94, orient: 'vertical', itemWidth: 25, itemHeight: 2.2, itemGap: 1.7, padding: 0,
    formatter: n => '{a|' + n + '}',
    textStyle: {rich: {a: {width: 27, lineHeight: 12, align: 'right', fontFamily: SANS, fontWeight: 'bold', fontSize: 11, color: '#111'}}}
  },
  series: series
});

// ---------------- ANNOTATIONS ----------------
const gr = [];
G.forEach((g, i) => {
  gr.push({type: 'rect', silent: true, z: 100, shape: {x: g.left, y: g.top, width: g.width, height: g.height},
    style: {fill: null, stroke: '#000', lineWidth: 1.2}});
  gr.push({type: 'text', silent: true, z: 100, x: letterPos[i][0], y: letterPos[i][1],
    style: {text: letters[i], font: 'bold 15px ' + SANS, fill: '#000', verticalAlign: 'middle'}});
});
function px(gi, t, e) { return chart.convertToPixel({gridIndex: gi}, [t, e]); }
function arrow(gi, a, color) {
  const p1 = px(gi, a[0], a[1]), p2 = px(gi, a[2], a[3]);
  const pm = px(gi, a[4], (a[1] + a[3]) / 2);
  const cx = 2 * pm[0] - (p1[0] + p2[0]) / 2, cy = (p1[1] + p2[1]) / 2;
  const dx = p2[0] - cx, dy = p2[1] - cy, L = Math.hypot(dx, dy) || 1;
  const ux = dx / L, uy = dy / L, nx = -uy, ny = ux;
  const tip = [p2[0] + ux * 3, p2[1] + uy * 3];
  const back = [p2[0] - ux * 4, p2[1] - uy * 4];
  const head = [tip, [back[0] + nx * 4, back[1] + ny * 4], [back[0] - nx * 4, back[1] - ny * 4]];
  const shape = {x1: p1[0], y1: p1[1], x2: p2[0], y2: p2[1], cpx1: cx, cpy1: cy};
  gr.push({type: 'bezierCurve', silent: true, z: 60, shape: shape, style: {stroke: '#f2e24a', lineWidth: 4.5, fill: null}});
  gr.push({type: 'polygon', silent: true, z: 60, shape: {points: head}, style: {fill: '#f2e24a', stroke: '#f2e24a', lineWidth: 2}});
  gr.push({type: 'bezierCurve', silent: true, z: 61, shape: shape, style: {stroke: color, lineWidth: 2.6, fill: null}});
  gr.push({type: 'polygon', silent: true, z: 61, shape: {points: head}, style: {fill: color}});
}
for (let p = 0; p < 7; p++) {
  const gi = p + 1, g = G[gi];
  gr.push({type: 'text', silent: true, z: 101, x: g.left + 3, y: g.top + 2,
    style: {text: panelAngles[p], font: 'bold 14px ' + SANS, fill: '#000', backgroundColor: '#fff',
      borderColor: '#000', borderWidth: 1, padding: [1, 5, 0, 5], align: 'left', verticalAlign: 'top'}});
  gr.push({type: 'text', silent: true, z: 101, x: g.left + g.width - 3, y: g.top + 2,
    style: {text: 'CB', font: 'bold 14px ' + SERIF, fill: '#000', backgroundColor: '#fff',
      borderColor: '#000', borderWidth: 1, padding: [1, 2, 0, 2], align: 'right', verticalAlign: 'top'}});
  gr.push({type: 'text', silent: true, z: 101, x: g.left + g.width - 3, y: g.top + g.height - 2,
    style: {text: 'VB', font: 'bold 14px ' + SERIF, fill: '#000', backgroundColor: '#fff',
      borderColor: '#000', borderWidth: 1, padding: [1, 2, 0, 2], align: 'right', verticalAlign: 'bottom'}});
  const tp = px(gi, 2, tauE[p]);
  gr.push({type: 'text', silent: true, z: 101, x: tp[0] - 4, y: tp[1],
    style: {text: '{a|τ = ' + panelTau[p] + ' }{b|ns}', align: 'right', verticalAlign: 'middle',
      rich: {a: {font: 'bold 14px ' + SERIF, fill: '#111'}, b: {font: 'italic bold 14px ' + SERIF, fill: '#111'}}}});
  arrow(gi, arrowB[p], '#1f3cff');
  arrow(gi, arrowR[p], '#ee1b4c');
  const ep = px(gi, eLab[p][0], eLab[p][1]);
  gr.push({type: 'text', silent: true, z: 101, x: ep[0], y: ep[1],
    style: {text: 'e', font: 'italic bold 21px ' + SERIF, fill: '#1f3cff', align: 'center', verticalAlign: 'middle'}});
  const hp = px(gi, hLab[p][0], hLab[p][1]);
  gr.push({type: 'text', silent: true, z: 101, x: hp[0], y: hp[1],
    style: {text: 'h', font: 'italic bold 21px ' + SERIF, fill: '#ee1b4c', align: 'center', verticalAlign: 'middle'}});
}
chart.setOption({graphic: {elements: gr}});
</script>
</body></html>
